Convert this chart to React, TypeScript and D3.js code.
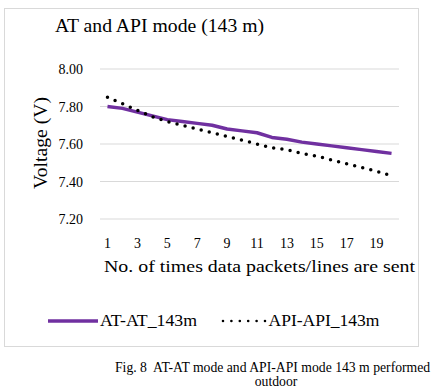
import React, { useEffect, useRef } from "react";
import * as d3 from "d3";

// Packet index 1..20
const packets = d3.range(1, 21);
// AT-AT mode voltage at 143 m
const atVoltage = [
  7.8, 7.79, 7.77, 7.75, 7.73, 7.72, 7.71, 7.7, 7.68, 7.67,
  7.66, 7.635, 7.625, 7.61, 7.6, 7.59, 7.58, 7.57, 7.56, 7.55,
];
// API-API mode voltage at 143 m
const apiVoltage = [
  7.85, 7.815, 7.78, 7.745, 7.72, 7.7, 7.68, 7.66, 7.64, 7.62,
  7.6, 7.58, 7.57, 7.55, 7.535, 7.515, 7.495, 7.475, 7.455, 7.43,
];
const yTicks = [7.2, 7.4, 7.6, 7.8, 8.0];
const xTickLabels = ["1", "3", "5", "7", "9", "11", "13", "15", "17", "19"];

const FONT = "Liberation Serif, Times New Roman, serif";

const App = () => {
  const ref = useRef<SVGSVGElement>(null);

  useEffect(() => {
    const width = 434;
    const height = 388;
    const svg = d3.select(ref.current);
    svg.selectAll("*").remove();
    svg.attr("width", width).attr("height", height);

    // chart frame
    svg
      .append("rect")
      .attr("x", 4.5)
      .attr("y", 8.5)
      .attr("width", 414)
      .attr("height", 338)
      .attr("fill", "#fff")
      .attr("stroke", "#d9d9d9");

    svg
      .append("text")
      .attr("x", 55)
      .attr("y", 32)
      .attr("font-family", FONT)
      .attr("font-size", 18)
      .attr("textLength", 209)
      .attr("lengthAdjust", "spacingAndGlyphs")
      .text("AT and API mode (143 m)");

    const x = d3
      .scaleBand<number>()
      .domain(packets)
      .range([100, 399]);
    const y = d3.scaleLinear().domain([7.2, 8.0]).range([219, 69]);
    const cx = (d: number) => (x(d) as number) + x.bandwidth() / 2;

    // gridlines
    svg
      .append("g")
      .selectAll("line")
      .data(yTicks)
      .join("line")
      .attr("x1", 100)
      .attr("x2", 399)
      .attr("y1", (d) => y(d))
      .attr("y2", (d) => y(d))
      .attr("stroke", "#d9d9d9")
      .attr("stroke-width", 1);

    svg
      .append("g")
      .selectAll("text")
      .data(yTicks)
      .join("text")
      .attr("x", 83)
      .attr("y", (d) => y(d) + 5)
      .attr("text-anchor", "end")
      .attr("font-family", FONT)
      .attr("font-size", 14)
      .text((d) => d.toFixed(2));

    svg
      .append("g")
      .selectAll("text")
      .data(xTickLabels)
      .join("text")
      .attr("x", (d) => cx(+d))
      .attr("y", 247.5)
      .attr("text-anchor", "middle")
      .attr("font-family", FONT)
      .attr("font-size", 14)
      .text((d) => d);

    svg
      .append("text")
      .attr("transform", `translate(47,143) rotate(-90)`)
      .attr("text-anchor", "middle")
      .attr("font-family", FONT)
      .attr("font-size", 18)
      .attr("textLength", 92)
      .attr("lengthAdjust", "spacingAndGlyphs")
      .text("Voltage (V)");

    svg
      .append("text")
      .attr("x", 104)
      .attr("y", 271.5)
      .attr("font-family", FONT)
      .attr("font-size", 16.5)
      .attr("textLength", 311)
      .attr("lengthAdjust", "spacingAndGlyphs")
      .text("No. of times data packets/lines are sent");

    const line = d3
      .line<number>()
      .x((_, i) => cx(packets[i]))
      .y((d) => y(d));

    svg
      .append("path")
      .datum(atVoltage)
      .attr("d", line)
      .attr("fill", "none")
      .attr("stroke", "#7030a0")
      .attr("stroke-width", 3.5)
      .attr("stroke-linejoin", "round");

    svg
      .append("path")
      .datum(apiVoltage)
      .attr("d", line)
      .attr("fill", "none")
      .attr("stroke", "#000")
      .attr("stroke-width", 3.5)
      .attr("stroke-linecap", "round")
      .attr("stroke-dasharray", "0 8.3");

    // legend
    const legend = svg.append("g").attr("font-family", FONT).attr("font-size", 16);
    legend
      .append("line")
      .attr("x1", 48)
      .attr("x2", 98)
      .attr("y1", 321)
      .attr("y2", 321)
      .attr("stroke", "#7030a0")
      .attr("stroke-width", 3.5);
    legend
      .append("text")
      .attr("x", 100)
      .attr("y", 326)
      .attr("textLength", 97)
      .attr("lengthAdjust", "spacingAndGlyphs")
      .text("AT-AT_143m");
    legend
      .append("line")
      .attr("x1", 223)
      .attr("x2", 266)
      .attr("y1", 321)
      .attr("y2", 321)
      .attr("stroke", "#000")
      .attr("stroke-width", 2.6)
      .attr("stroke-linecap", "round")
      .attr("stroke-dasharray", "0 8.4");
    legend
      .append("text")
      .attr("x", 268.5)
      .attr("y", 326)
      .attr("textLength", 111)
      .attr("lengthAdjust", "spacingAndGlyphs")
      .text("API-API_143m");

    // figure caption
    const caption = svg
      .append("g")
      .attr("font-family", FONT)
      .attr("font-size", 13.7);
    caption
      .append("text")
      .attr("x", 115)
      .attr("y", 372)
      .attr("xml:space", "preserve")
      .text("Fig. 8  AT-AT mode and API-API mode 143 m performed");
    caption
      .append("text")
      .attr("x", 276)
      .attr("y", 386)
      .attr("text-anchor", "middle")
      .text("outdoor");
  }, []);

  return (
    <svg
      ref={ref}
      style={{ position: "absolute", left: 0, top: 0, background: "#fff" }}
    />
  );
};

export default App;
